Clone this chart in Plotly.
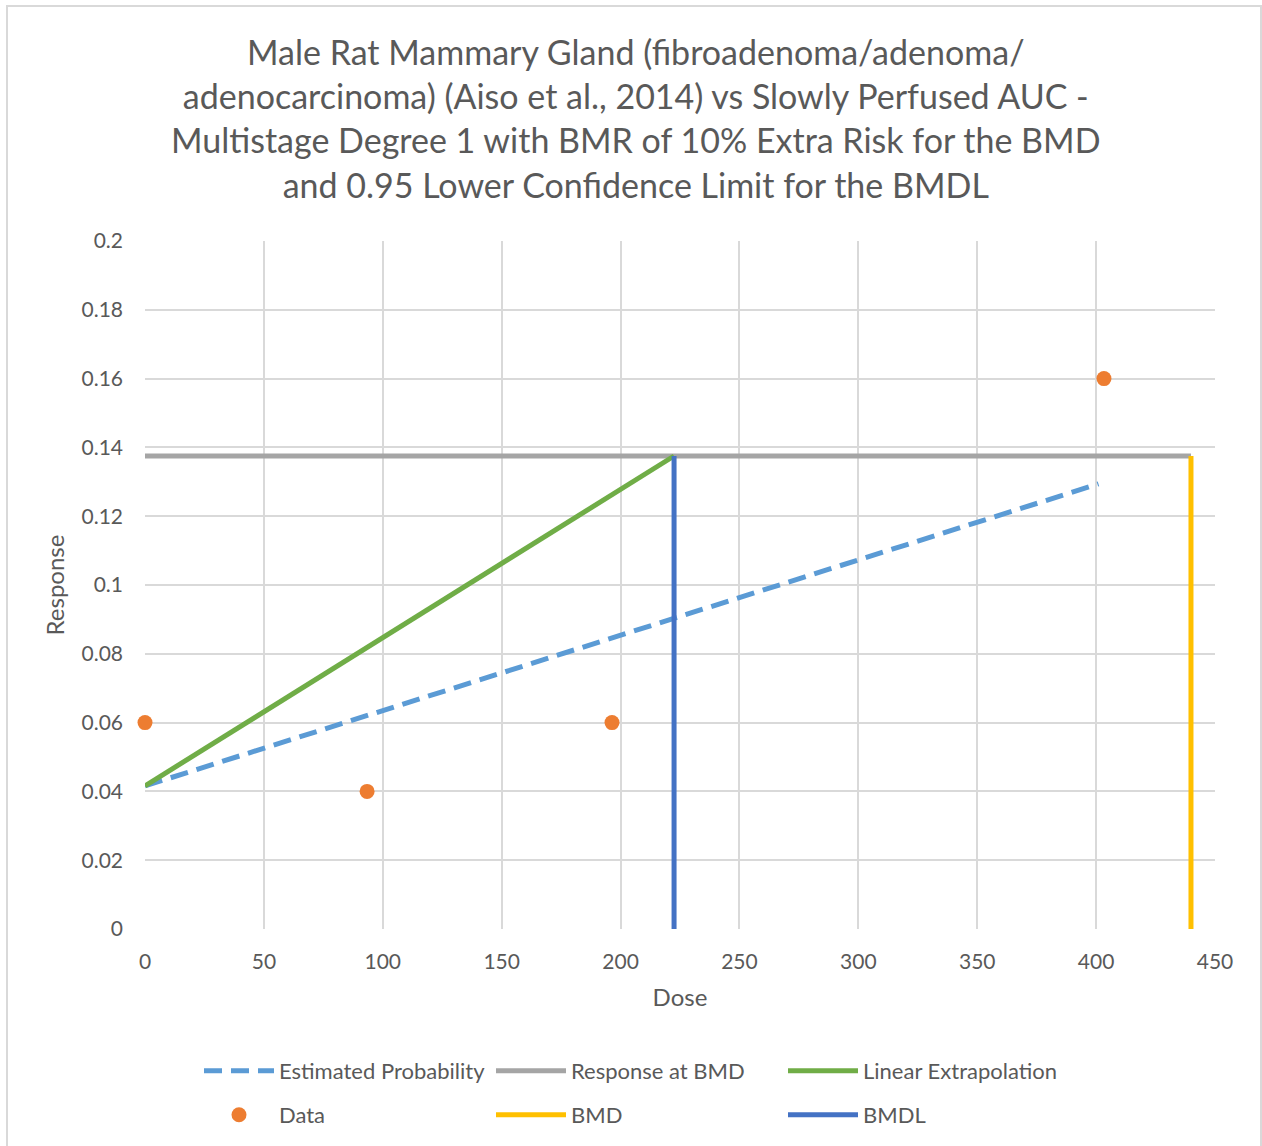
import plotly.graph_objects as go

# ---- data ----
est_dose = [0, 401]
est_resp = [0.0416, 0.1294]
data_dose = [0, 93.4, 196.4, 403.3]
data_resp = [0.06, 0.04, 0.06, 0.16]
bmd = 439.9
bmdl = 222.5
resp_at_bmd = 0.1375
bg_resp = 0.0416

x_ticks = [0, 50, 100, 150, 200, 250, 300, 350, 400, 450]
y_ticks = [0, 0.02, 0.04, 0.06, 0.08, 0.1, 0.12, 0.14, 0.16, 0.18, 0.2]
y_tick_text = ["0", "0.02", "0.04", "0.06", "0.08", "0.1", "0.12", "0.14", "0.16", "0.18", "0.2"]

title = ("Male Rat Mammary Gland (fibroadenoma/adenoma/<br>"
         "adenocarcinoma) (Aiso et al., 2014) vs Slowly Perfused AUC -<br>"
         "Multistage Degree 1 with BMR of 10% Extra Risk for the BMD<br>"
         "and 0.95 Lower Confidence Limit for the BMDL")

FONT = "Lato"
TXT = "#595959"

W, H = 1262, 1146
ml, mr, mt, mb = 145, 47, 241, 217
pw, ph = W - ml - mr, H - mt - mb

def px(x):
    return (x - ml) / pw

def py(y):
    return (H - mb - y) / ph

fig = go.Figure()
fig.add_trace(go.Scatter(x=est_dose, y=est_resp, mode="lines", name="Estimated Probability",
                         line=dict(color="#5B9BD5", width=5, dash="18px,9px"), legend="legend"))
fig.add_trace(go.Scatter(x=[0, bmd], y=[resp_at_bmd, resp_at_bmd], mode="lines", name="Response at BMD",
                         line=dict(color="#A5A5A5", width=5), legend="legend"))
fig.add_trace(go.Scatter(x=[0, bmdl], y=[bg_resp, resp_at_bmd], mode="lines", name="Linear Extrapolation",
                         line=dict(color="#70AD47", width=5), legend="legend"))
fig.add_trace(go.Scatter(x=data_dose, y=data_resp, mode="markers", name="Data", cliponaxis=False,
                         marker=dict(color="#ED7D31", size=15), legend="legend2"))
fig.add_trace(go.Scatter(x=[bmd, bmd], y=[0, resp_at_bmd], mode="lines", name="BMD",
                         line=dict(color="#FFC000", width=5), legend="legend2"))
fig.add_trace(go.Scatter(x=[bmdl, bmdl], y=[0, resp_at_bmd], mode="lines", name="BMDL",
                         line=dict(color="#4472C4", width=5), legend="legend2"))

legend_common = dict(orientation="h", x=px(199), xanchor="left", yanchor="middle",
                     entrywidth=207, entrywidthmode="pixels", itemwidth=70,
                     font=dict(size=22, color=TXT, family=FONT), bgcolor="rgba(0,0,0,0)")

fig.update_layout(
    width=W, height=H,
    margin=dict(l=ml, r=mr, t=mt, b=mb, autoexpand=False),
    paper_bgcolor="white", plot_bgcolor="white",
    font=dict(family=FONT, color=TXT, size=21),
    xaxis=dict(range=[0, 450], tickvals=x_ticks, showgrid=True, gridcolor="#D9D9D9", gridwidth=1.5,
               zeroline=False, showline=False, ticks="", ticklabelstandoff=18,
               tickfont=dict(size=21, color=TXT),
               title=dict(text="Dose", font=dict(size=24, color=TXT), standoff=17)),
    yaxis=dict(range=[0, 0.2], tickvals=y_ticks, ticktext=y_tick_text, showgrid=True, gridcolor="#D9D9D9",
               gridwidth=1.5, zeroline=False, showline=False, ticks="", ticklabelstandoff=21,
               tickfont=dict(size=21, color=TXT),
               title=dict(text="Response", font=dict(size=24, color=TXT), standoff=10)),
    legend=dict(y=py(1071), **legend_common),
    legend2=dict(y=py(1115), **legend_common),
    showlegend=True,
    annotations=[dict(text=title, xref="paper", yref="paper", x=px(W / 2 + 5), y=py(118),
                      xanchor="center", yanchor="middle", showarrow=False, align="center",
                      font=dict(family=FONT, size=34, color=TXT))],
    shapes=[dict(type="rect", xref="paper", yref="paper",
                 x0=px(7), x1=px(1261), y0=py(1160), y1=py(6),
                 line=dict(color="#D9D9D9", width=2), fillcolor="rgba(0,0,0,0)", layer="below")],
)

fig.write_html("out.html")
